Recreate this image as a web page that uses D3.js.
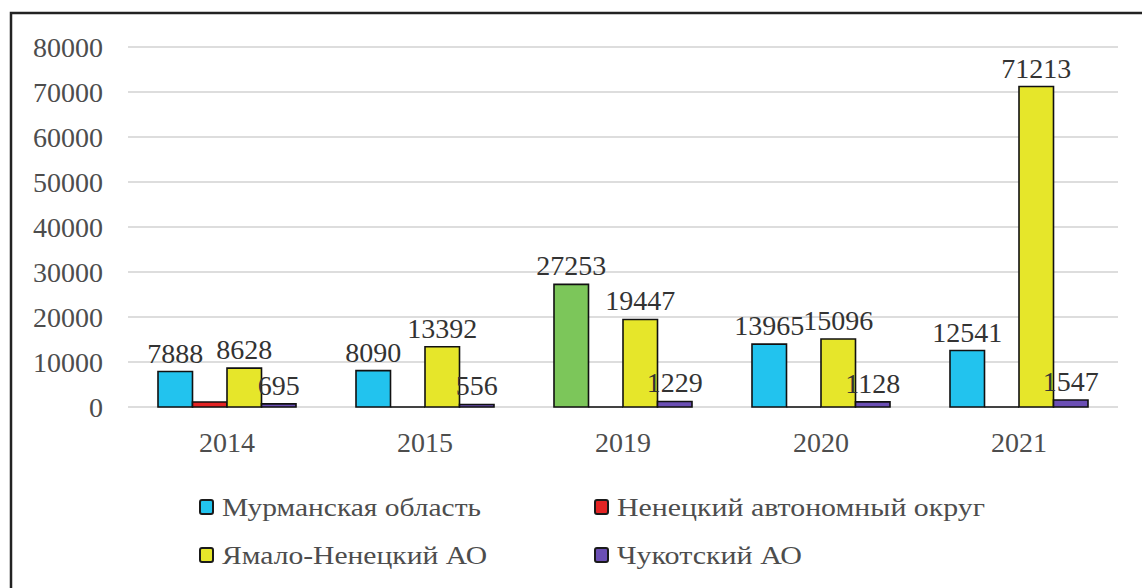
<!DOCTYPE html>
<html>
<head>
<meta charset="utf-8">
<script src="https://cdn.jsdelivr.net/npm/d3@7"></script>
<style>
  html, body { margin: 0; padding: 0; background: #fff; }
  svg { display: block; }
</style>
</head>
<body>
<div id="chart"></div>
<script>
// data
const years = ["2014", "2015", "2019", "2020", "2021"];
const murmansk = [7888, 8090, 27253, 13965, 12541];
const nenets = [1100, 0, 0, 0, 0];
const yamal = [8628, 13392, 19447, 15096, 71213];
const chukotka = [695, 556, 1229, 1128, 1547];
const seriesNames = ["Мурманская область", "Ненецкий автономный округ", "Ямало-Ненецкий АО", "Чукотский АО"];
const yTicks = [0, 10000, 20000, 30000, 40000, 50000, 60000, 70000, 80000];

const colors = ["#22c3ee", "#e42424", "#e6e62a", "#6b4fb4"];
const green = "#7cc65a";   // the 2019 Murmansk bar is drawn green

const width = 1142;
const height = 588;
const margin = { top: 47, right: 24, bottom: 181, left: 128 };
const font = "'Liberation Serif', 'Times New Roman', serif";

const svg = d3.select("#chart")
    .append("svg")
    .attr("width", width)
    .attr("height", height);

// outer frame (runs off right and bottom edge)
svg.append("rect")
    .attr("x", 11)
    .attr("y", 13)
    .attr("width", width)
    .attr("height", height)
    .attr("fill", "none")
    .attr("stroke", "#222")
    .attr("stroke-width", 2.5);

const series = [murmansk, nenets, yamal, chukotka];

const x = d3.scaleBand()
    .domain(years)
    .range([margin.left, width - margin.right])
    .paddingInner(0.303)
    .paddingOuter(0.1515);

const x1 = d3.scaleBand()
    .domain(d3.range(series.length))
    .range([0, x.bandwidth()]);

const y = d3.scaleLinear()
    .domain([0, 80000])
    .range([height - margin.bottom, margin.top]);

// gridlines
svg.append("g")
    .selectAll("line")
    .data(yTicks)
    .enter()
    .append("line")
    .attr("x1", margin.left)
    .attr("x2", width - margin.right)
    .attr("y1", d => y(d))
    .attr("y2", d => y(d))
    .style("stroke", "#d2d2d2")
    .style("stroke-width", 1.5);

// y labels
svg.append("g")
    .selectAll("text")
    .data(yTicks)
    .enter()
    .append("text")
    .attr("x", 103)
    .attr("y", d => y(d))
    .attr("dy", "0.35em")
    .attr("text-anchor", "end")
    .attr("font-family", font)
    .attr("font-size", 28)
    .style("fill", "#4d4d4d")
    .text(d => d);

// x labels
svg.append("g")
    .selectAll("text")
    .data(years)
    .enter()
    .append("text")
    .attr("x", d => x(d) + x.bandwidth() / 2)
    .attr("y", y(0) + 45)
    .attr("text-anchor", "middle")
    .attr("font-family", font)
    .attr("font-size", 28)
    .style("fill", "#4d4d4d")
    .text(d => d);

// flatten into bar records
const bars = [];
series.forEach((vals, s) => {
    vals.forEach((v, i) => {
        bars.push({ s: s, year: years[i], value: v });
    });
});

// bars as paths so zero values still show the black outline
svg.append("g")
    .selectAll("path")
    .data(bars)
    .enter()
    .append("path")
    .attr("d", d => {
        const bx = x(d.year) + x1(d.s);
        const w = x1.bandwidth();
        const top = y(d.value);
        const base = y(0);
        return "M" + bx + "," + base + "V" + top + "H" + (bx + w) + "V" + base + "Z";
    })
    .style("fill", d => (d.s === 0 && d.year === "2019") ? green : colors[d.s])
    .style("stroke", "#111")
    .style("stroke-width", 1.6);

// value labels (no labels for the Nenets series)
svg.append("g")
    .selectAll("text")
    .data(bars.filter(d => d.s !== 1))
    .enter()
    .append("text")
    .attr("x", d => x(d.year) + x1(d.s) + x1.bandwidth() / 2)
    .attr("y", d => y(d.value) - 9)
    .attr("text-anchor", "middle")
    .attr("font-family", font)
    .attr("font-size", 28)
    .style("fill", "#333")
    .text(d => d.value);

// legend
const legendPos = [
    { x: 199, y: 507, len: 259 },
    { x: 594, y: 507, len: 368 },
    { x: 199, y: 555, len: 265 },
    { x: 594, y: 555, len: 185 }
];

const legend = svg.append("g")
    .selectAll("g")
    .data(seriesNames)
    .enter()
    .append("g")
    .attr("transform", (d, i) => "translate(" + legendPos[i].x + "," + legendPos[i].y + ")");

legend.append("rect")
    .attr("x", 1)
    .attr("y", -7)
    .attr("width", 13)
    .attr("height", 14)
    .attr("rx", 2)
    .style("fill", (d, i) => colors[i])
    .style("stroke", "#1a1a1a")
    .style("stroke-width", 2);

legend.append("text")
    .attr("x", 23)
    .attr("y", 0)
    .attr("dy", "0.33em")
    .attr("font-family", font)
    .attr("font-size", 26)
    .attr("textLength", (d, i) => legendPos[i].len)
    .attr("lengthAdjust", "spacingAndGlyphs")
    .style("fill", "#4d4d4d")
    .text(d => d);
</script>
</body>
</html>
